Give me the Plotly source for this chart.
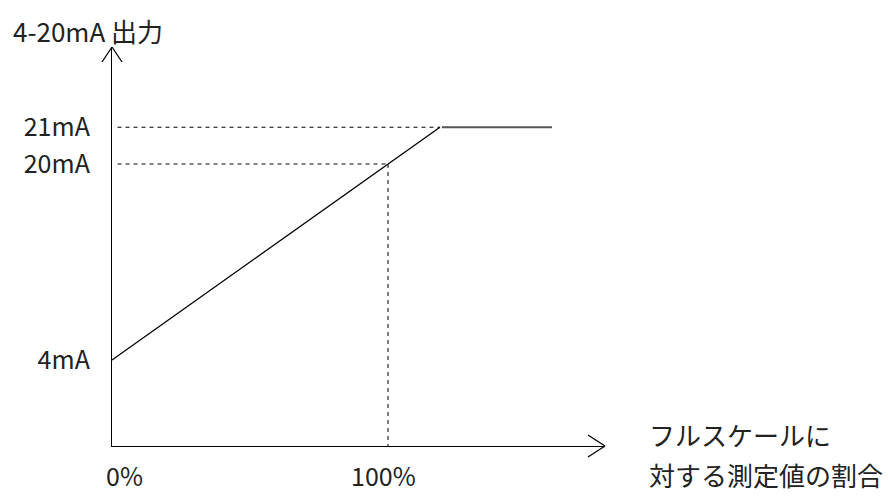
import plotly.graph_objects as go

# ---- data (schematic units) ----
x_pct = [0, 100, 118.8]          # rising output line (% of full scale)
y_ma = [4, 20, 23]                # schematic mA position
sat_x = [119.5, 159.4]            # saturated flat segment
sat_y = [23, 23]
ytick_vals = [4, 20, 23]
ytick_text = ["4mA", "20mA", "21mA"]
xtick_vals = [0, 100]
xtick_text = ["0%", "100%"]
y_title = "4-20mA 出力"
x_title_lines = ["フルスケールに", "対する測定値の割合"]

W, H = 888, 496
L, R, T, B = 112, W - 605, 47, H - 446
XR = [0, 178.6]
YR = [-3.02, 29.55]
FONT = "Noto Sans CJK JP"
FS = 25

fig = go.Figure()
fig.add_trace(go.Scatter(x=x_pct, y=y_ma, mode="lines",
                         line=dict(color="black", width=1.3), hoverinfo="skip"))
fig.add_trace(go.Scatter(x=sat_x, y=sat_y, mode="lines",
                         line=dict(color="#555555", width=2), hoverinfo="skip"))
fig.add_trace(go.Scatter(x=[XR[0] + 2, x_pct[2]], y=[y_ma[2]] * 2, mode="lines",
                         line=dict(color="black", width=1, dash="4px,4px"), hoverinfo="skip"))
fig.add_trace(go.Scatter(x=[XR[0] + 2, x_pct[1]], y=[y_ma[1]] * 2, mode="lines",
                         line=dict(color="black", width=1, dash="4px,4px"), hoverinfo="skip"))
fig.add_trace(go.Scatter(x=[x_pct[1], x_pct[1]], y=[y_ma[1], YR[0]], mode="lines",
                         line=dict(color="black", width=1, dash="4px,4px"), hoverinfo="skip"))

pw, ph = W - L - R, H - T - B
def px(xp):  # page pixel -> paper
    return (xp - L) / pw
def py(yp):
    return (H - B - yp) / ph

ax_l, ax_t, ax_r, ax_b = L, T, W - R, H - B
shapes = []
for dx in (-10, 10):
    shapes.append(dict(type="line", xref="paper", yref="paper",
                       x0=px(ax_l), y0=py(ax_t), x1=px(ax_l + dx), y1=py(ax_t + 15),
                       line=dict(color="black", width=1.3)))
for dy in (-11, 11):
    shapes.append(dict(type="line", xref="paper", yref="paper",
                       x0=px(ax_r), y0=py(ax_b), x1=px(ax_r - 17), y1=py(ax_b + dy),
                       line=dict(color="black", width=1.3)))

def label(text, x, y):
    return dict(text=text, xref="paper", yref="paper", x=px(x), y=py(y),
                xanchor="left", yanchor="middle", showarrow=False,
                font=dict(family=FONT, size=26, color="#222"))

annotations = [
    label(y_title, 11, 30),
    label(x_title_lines[0], 647, 434),
    label(x_title_lines[1], 647, 474),
]
# x tick labels (slightly offset from their ticks, as in the original drawing)
for v, t, shift in zip(xtick_vals, xtick_text, (12, -5)):
    annotations.append(dict(text=t, xref="x", yref="paper", x=v, y=py(H - 1),
                            xshift=shift, xanchor="center", yanchor="bottom",
                            showarrow=False, font=dict(family=FONT, size=FS, color="#222")))

fig.update_layout(
    width=W, height=H, margin=dict(l=L, r=R, t=T, b=B, pad=0, autoexpand=False),
    paper_bgcolor="white", plot_bgcolor="white", showlegend=False,
    shapes=shapes, annotations=annotations,
    font=dict(family=FONT, size=FS, color="#222"),
    xaxis=dict(range=XR, showgrid=False, zeroline=False, showline=True, automargin=False,
               linecolor="black", linewidth=1.3, tickvals=xtick_vals, showticklabels=False,
               ticks="", fixedrange=True),
    yaxis=dict(range=YR, showgrid=False, zeroline=False, showline=True, automargin=False,
               linecolor="black", linewidth=1.3, tickvals=ytick_vals, ticktext=ytick_text,
               ticks="", ticklabelstandoff=16, fixedrange=True),
)
fig.write_html("out.html", config={"displayModeBar": False},
               post_script="document.body.style.margin='0';document.body.style.overflow='hidden';")
